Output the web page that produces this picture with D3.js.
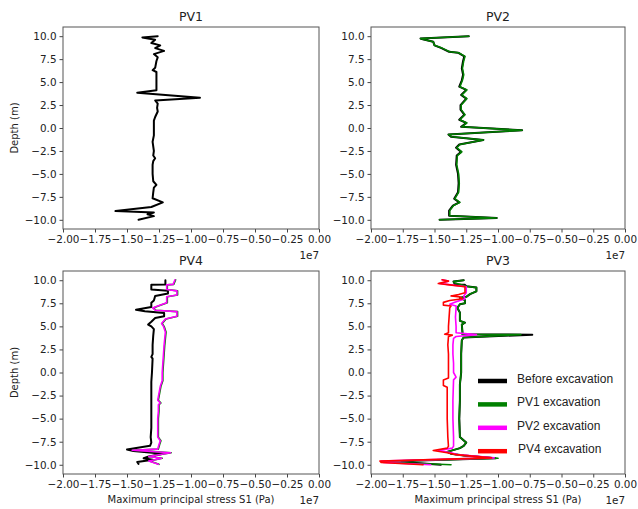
<!DOCTYPE html>
<html>
<head>
<meta charset="utf-8">
<script src="https://cdn.jsdelivr.net/npm/d3@7"></script>
<style>
    body { margin: 0; background: #fff; }
    svg text { font-family: "DejaVu Sans", sans-serif; fill: #222; }
</style>
</head>
<body>
<div id="chart"></div>
<script>
// tick values (depth in m, stress in units of 1e7 Pa)
const yTicks = [10, 7.5, 5, 2.5, 0, -2.5, -5, -7.5, -10];
const xTicks = [-2, -1.75, -1.5, -1.25, -1, -0.75, -0.5, -0.25, 0];
const legendLabels = ["Before excavation", "PV1 excavation", "PV2 excavation", "PV4 excavation"];

// each point is [depth, S1 / 1e7]
const pv1Before = [[10.0,-1.26],[9.86,-1.38],[9.6,-1.28],[9.25,-1.31],[9.0,-1.24],[8.7,-1.28],[8.4,-1.21],[8.05,-1.29],[7.7,-1.26],[7.3,-1.27],[6.55,-1.28],[6.3,-1.30],[6.1,-1.27],[4.1,-1.27],[3.85,-1.42],[3.3,-0.93],[3.0,-1.28],[2.65,-1.26],[2.2,-1.265],[1.8,-1.26],[1.2,-1.28],[0.8,-1.29],[0.0,-1.29],[-0.8,-1.29],[-1.5,-1.30],[-2.5,-1.29],[-3.0,-1.295],[-3.3,-1.28],[-3.6,-1.295],[-4.0,-1.30],[-5.0,-1.30],[-5.8,-1.295],[-6.2,-1.27],[-6.5,-1.29],[-7.0,-1.295],[-7.65,-1.30],[-8.1,-1.22],[-8.6,-1.31],[-9.05,-1.59],[-9.2,-1.29],[-9.4,-1.34],[-9.6,-1.29],[-10.0,-1.41]];

const pv2Before = [[10.0,-1.23],[9.75,-1.61],[9.7,-1.60],[9.4,-1.51],[9.0,-1.50],[8.7,-1.445],[8.3,-1.385],[8.2,-1.315],[7.8,-1.265],[7.3,-1.275],[6.5,-1.285],[5.8,-1.275],[5.2,-1.285],[4.5,-1.305],[4.15,-1.25],[3.6,-1.29],[3.2,-1.25],[2.5,-1.295],[2.0,-1.295],[1.45,-1.265],[0.9,-1.305],[0.55,-1.25],[0.13,-1.29],[-0.25,-0.81],[-0.7,-1.39],[-0.95,-1.37],[-1.3,-1.115],[-1.8,-1.305],[-2.15,-1.33],[-2.6,-1.29],[-3.0,-1.325],[-4.0,-1.33],[-5.0,-1.315],[-6.0,-1.31],[-7.0,-1.315],[-7.7,-1.345],[-8.1,-1.305],[-8.45,-1.355],[-9.0,-1.385],[-9.55,-1.385],[-9.8,-1.01],[-10.0,-1.46]];
const pv2PV1 = [[10.0,-1.23],[9.75,-1.61],[9.7,-1.60],[9.4,-1.51],[9.0,-1.50],[8.7,-1.44],[8.3,-1.38],[8.2,-1.31],[7.8,-1.26],[7.3,-1.27],[6.5,-1.28],[5.8,-1.27],[5.2,-1.28],[4.5,-1.30],[4.15,-1.245],[3.6,-1.285],[3.2,-1.245],[2.5,-1.29],[2.0,-1.29],[1.45,-1.26],[0.9,-1.30],[0.55,-1.245],[0.13,-1.285],[-0.25,-0.81],[-0.7,-1.39],[-0.95,-1.365],[-1.3,-1.115],[-1.8,-1.30],[-2.15,-1.325],[-2.6,-1.285],[-3.0,-1.32],[-4.0,-1.325],[-5.0,-1.31],[-6.0,-1.305],[-7.0,-1.31],[-7.7,-1.34],[-8.1,-1.30],[-8.45,-1.35],[-9.0,-1.38],[-9.55,-1.38],[-9.8,-1.01],[-10.0,-1.46]];

const pv4Before = [[10.0,-1.20],[9.55,-1.20],[9.5,-1.31],[9.0,-1.31],[8.85,-1.18],[8.55,-1.18],[8.3,-1.28],[7.8,-1.29],[7.55,-1.31],[7.1,-1.31],[6.8,-1.43],[6.65,-1.36],[6.45,-1.21],[6.1,-1.21],[5.9,-1.28],[5.5,-1.31],[5.2,-1.335],[5.0,-1.31],[4.7,-1.29],[4.0,-1.295],[3.0,-1.30],[2.0,-1.30],[1.7,-1.31],[1.5,-1.30],[0.0,-1.305],[-1.0,-1.31],[-2.0,-1.31],[-3.0,-1.31],[-4.0,-1.31],[-5.0,-1.31],[-6.0,-1.31],[-7.0,-1.315],[-7.6,-1.31],[-7.95,-1.32],[-8.35,-1.50],[-8.5,-1.45],[-8.8,-1.22],[-9.1,-1.33],[-9.3,-1.37],[-9.45,-1.30],[-9.7,-1.42],[-9.9,-1.41]];
const pv4PV1 = [[10.05,-1.12],[9.55,-1.135],[9.5,-1.185],[9.0,-1.185],[8.85,-1.105],[8.4,-1.105],[8.2,-1.185],[7.55,-1.185],[7.2,-1.255],[7.0,-1.295],[6.75,-1.275],[6.6,-1.105],[6.1,-1.105],[5.8,-1.195],[5.3,-1.225],[5.0,-1.21],[4.4,-1.195],[3.0,-1.205],[2.0,-1.21],[1.0,-1.215],[0.0,-1.22],[-0.9,-1.22],[-1.5,-1.235],[-3.0,-1.255],[-3.3,-1.235],[-3.5,-1.25],[-4.2,-1.25],[-5.0,-1.255],[-6.0,-1.255],[-7.0,-1.255],[-7.4,-1.235],[-7.8,-1.245],[-8.3,-1.255],[-8.42,-1.455],[-8.7,-1.155],[-9.1,-1.325],[-9.3,-1.225],[-9.5,-1.295],[-9.6,-1.325],[-9.95,-1.25]];
const pv4PV2 = [[10.05,-1.125],[9.55,-1.14],[9.5,-1.19],[9.0,-1.19],[8.85,-1.11],[8.4,-1.11],[8.2,-1.19],[7.55,-1.19],[7.2,-1.26],[7.0,-1.30],[6.75,-1.28],[6.6,-1.11],[6.1,-1.11],[5.8,-1.20],[5.3,-1.23],[5.0,-1.215],[4.4,-1.20],[3.0,-1.21],[2.0,-1.215],[1.0,-1.22],[0.0,-1.225],[-0.9,-1.225],[-1.5,-1.24],[-3.0,-1.26],[-3.3,-1.24],[-3.5,-1.255],[-4.2,-1.255],[-5.0,-1.26],[-6.0,-1.26],[-7.0,-1.26],[-7.4,-1.24],[-7.8,-1.25],[-8.3,-1.26],[-8.42,-1.46],[-8.7,-1.16],[-9.1,-1.33],[-9.3,-1.23],[-9.5,-1.30],[-9.6,-1.33],[-9.95,-1.255]];

const pv3Before = [[10.0,-1.27],[9.85,-1.35],[9.55,-1.34],[9.5,-1.26],[9.35,-1.25],[9.2,-1.17],[8.8,-1.17],[8.5,-1.22],[8.2,-1.25],[8.1,-1.30],[7.85,-1.26],[7.5,-1.26],[7.4,-1.30],[7.0,-1.32],[6.5,-1.30],[5.6,-1.30],[5.4,-1.26],[5.2,-1.285],[4.4,-1.28],[4.15,-1.28],[4.1,-0.73],[3.8,-1.27],[3.5,-1.285],[2.0,-1.29],[0.0,-1.29],[-1.3,-1.30],[-3.0,-1.30],[-5.0,-1.305],[-7.0,-1.30],[-7.6,-1.25],[-7.95,-1.27],[-8.2,-1.30],[-8.6,-1.40],[-8.8,-1.37],[-9.0,-1.27],[-9.3,-1.02],[-9.6,-1.76],[-9.75,-1.70],[-10.0,-1.45]];
const pv3PV1 = [[10.0,-1.27],[9.85,-1.35],[9.7,-1.34],[9.55,-1.30],[9.35,-1.25],[9.2,-1.17],[8.8,-1.17],[8.5,-1.22],[8.2,-1.25],[8.1,-1.30],[7.85,-1.26],[7.5,-1.26],[7.4,-1.30],[7.0,-1.32],[6.5,-1.30],[5.6,-1.30],[5.4,-1.26],[5.2,-1.285],[4.4,-1.28],[4.15,-1.28],[4.1,-0.82],[3.8,-1.27],[3.5,-1.285],[2.0,-1.29],[0.0,-1.29],[-1.3,-1.30],[-3.0,-1.30],[-5.0,-1.305],[-7.0,-1.30],[-7.6,-1.25],[-7.95,-1.27],[-8.2,-1.30],[-8.6,-1.40],[-8.8,-1.37],[-9.0,-1.27],[-9.3,-1.00],[-9.65,-1.90],[-9.75,-1.80],[-10.0,-1.37]];
const pv3PV2 = [[10.05,-1.44],[9.9,-1.39],[9.65,-1.46],[9.5,-1.37],[9.3,-1.25],[8.65,-1.25],[8.3,-1.27],[8.0,-1.26],[7.8,-1.30],[7.6,-1.34],[7.4,-1.38],[7.2,-1.33],[7.0,-1.33],[6.0,-1.335],[5.0,-1.33],[4.3,-1.33],[4.1,-1.17],[3.9,-1.33],[3.7,-1.35],[3.0,-1.355],[2.0,-1.355],[1.0,-1.35],[0.0,-1.35],[-0.5,-1.33],[-0.8,-1.35],[-3.0,-1.355],[-5.0,-1.355],[-7.0,-1.35],[-8.0,-1.35],[-8.2,-1.36],[-8.45,-1.47],[-8.7,-1.37],[-8.9,-1.32],[-9.25,-1.03],[-9.6,-1.92],[-9.75,-1.90],[-10.0,-1.53]];
const pv3PV4 = [[10.05,-1.44],[9.9,-1.39],[9.65,-1.47],[9.5,-1.38],[9.3,-1.26],[8.65,-1.26],[8.45,-1.31],[8.3,-1.37],[8.2,-1.30],[8.0,-1.28],[7.8,-1.38],[7.6,-1.43],[7.3,-1.43],[7.2,-1.37],[7.0,-1.38],[6.0,-1.385],[5.0,-1.39],[4.3,-1.39],[4.15,-1.42],[4.05,-1.36],[3.9,-1.39],[3.0,-1.395],[2.0,-1.39],[1.0,-1.39],[0.0,-1.39],[-0.6,-1.39],[-0.8,-1.43],[-1.4,-1.43],[-1.6,-1.40],[-3.0,-1.40],[-5.0,-1.40],[-7.0,-1.395],[-8.0,-1.39],[-8.2,-1.40],[-8.45,-1.51],[-8.7,-1.40],[-8.9,-1.33],[-9.25,-1.05],[-9.6,-1.93],[-9.75,-1.92],[-10.0,-1.59]];

const colors = ["#000000", "#008000", "#ff00ff", "#ff0000"];
const widths = [2.0, 1.6, 1.6, 1.6];

const width = 638;
const height = 509;

const panels = [
    { title: "PV1", left: 63, top: 27, w: 256, h: 202, yLabel: true, xLabel: false, series: [pv1Before] },
    { title: "PV2", left: 371, top: 27, w: 254, h: 202, yLabel: false, xLabel: false, series: [pv2Before, pv2PV1] },
    { title: "PV4", left: 63, top: 271, w: 256, h: 203, yLabel: true, xLabel: true, series: [pv4Before, pv4PV1, pv4PV2] },
    { title: "PV3", left: 371, top: 271, w: 254, h: 203, yLabel: false, xLabel: true, series: [pv3Before, pv3PV1, pv3PV2, pv3PV4], legend: true }
];

const svg = d3.select("#chart").append("svg")
    .attr("width", width)
    .attr("height", height)
    .style("background", "#fff");

panels.forEach(function (p) {
    const x = d3.scaleLinear().domain([-2, 0]).range([0, p.w]);
    const y = d3.scaleLinear().domain([-11, 11]).range([p.h, 0]);

    const g = svg.append("g")
        .attr("transform", "translate(" + p.left + "," + p.top + ")");

    const line = d3.line()
        .x(function (d) { return x(d[1]); })
        .y(function (d) { return y(d[0]); });

    // clip so spikes stay inside the frame
    const clipId = "clip-" + p.title;
    g.append("clipPath").attr("id", clipId)
        .append("rect").attr("width", p.w).attr("height", p.h);

    g.append("g")
        .attr("clip-path", "url(#" + clipId + ")")
        .selectAll("path")
        .data(p.series)
        .enter().append("path")
        .attr("d", line)
        .attr("fill", "none")
        .attr("stroke", function (d, i) { return colors[i]; })
        .attr("stroke-width", function (d, i) { return widths[i]; })
        .attr("stroke-linejoin", "round")
        .attr("stroke-linecap", "round");

    // axes
    const yAxis = g.append("g")
        .call(d3.axisLeft(y).tickValues(yTicks).tickFormat(d3.format(".1f")).tickSize(3.5).tickPadding(3).tickSizeOuter(0));
    const xAxis = g.append("g")
        .attr("transform", "translate(0," + p.h + ")")
        .call(d3.axisBottom(x).tickValues(xTicks).tickFormat(d3.format(".2f")).tickSize(3.5).tickPadding(3).tickSizeOuter(0));

    [yAxis, xAxis].forEach(function (a) {
        a.select(".domain").remove();
        a.selectAll(".tick line").attr("stroke", "#444");
        a.selectAll(".tick text")
            .style("font-size", "10.4px")
            .style("font-family", "'DejaVu Sans', sans-serif")
            .attr("fill", "#222");
    });

    g.append("rect")
        .attr("width", p.w)
        .attr("height", p.h)
        .attr("fill", "none")
        .attr("stroke", "#555")
        .attr("stroke-width", 1);

    g.append("text")
        .attr("x", p.w / 2)
        .attr("y", -6)
        .attr("text-anchor", "middle")
        .style("font-size", "12.5px")
        .text(p.title);

    // offset text for the x axis
    g.append("text")
        .attr("x", p.w)
        .attr("y", p.h + 30)
        .attr("text-anchor", "end")
        .style("font-size", "10.4px")
        .text("1e7");

    if (p.yLabel) {
        g.append("text")
            .attr("transform", "translate(" + (14 - p.left) + "," + (p.h / 2) + ") rotate(-90)")
            .attr("dy", "0.35em")
            .attr("text-anchor", "middle")
            .style("font-size", "10px")
            .text("Depth (m)");
    }

    if (p.xLabel) {
        g.append("text")
            .attr("x", p.w / 2)
            .attr("y", p.h + 29)
            .attr("text-anchor", "middle")
            .style("font-size", "10px")
            .text("Maximum principal stress S1 (Pa)");
    }

    if (p.legend) {
        const lg = g.selectAll(".legend")
            .data(legendLabels)
            .enter().append("g")
            .attr("class", "legend")
            .attr("transform", function (d, i) {
                return "translate(" + (478 - p.left) + "," + (110 + i * 23.4) + ")";
            });
        lg.append("line")
            .attr("x1", 0).attr("x2", 29)
            .attr("stroke", function (d, i) { return colors[i]; })
            .attr("stroke-width", 4.5);
        lg.append("text")
            .attr("x", function (d, i) { return i === 3 ? 40 : 39; })
            .attr("y", 2)
            .style("font-family", "'Liberation Sans', Arial, sans-serif")
            .style("font-size", "12px")
            .text(function (d) { return d; });
    }
});
</script>
</body>
</html>
